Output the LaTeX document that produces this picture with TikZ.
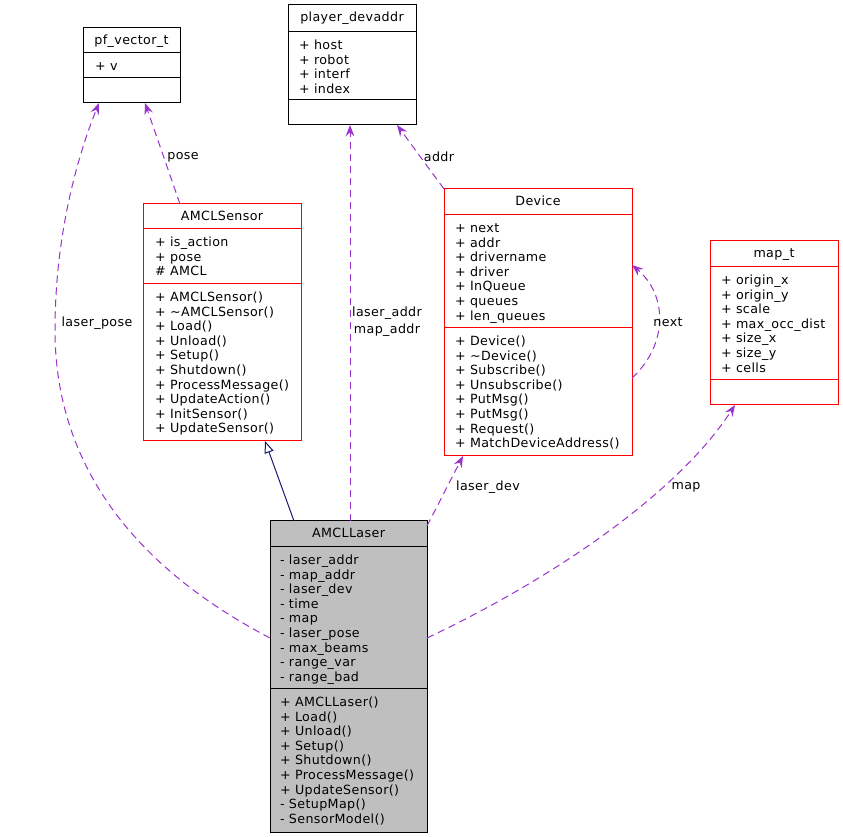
\documentclass[tikz,border=0pt]{standalone}
\usepackage{fontspec}
\setmainfont{DejaVu Sans}[LetterSpace=3]
\usetikzlibrary{arrows.meta,calc}
\definecolor{dorchid}{HTML}{9A32CD}
\definecolor{mnavy}{HTML}{191970}
\definecolor{boxgray}{HTML}{BFBFBF}
\tikzset{
  x=0.75pt,y=-0.75pt,
  every node/.style={font=\fontsize{9.5}{11.5}\selectfont},
  lbl/.style={inner sep=0,outer sep=0,anchor=base west},
  ttl/.style={inner sep=0,outer sep=0,anchor=base},
  elbl/.style={inner sep=0,outer sep=0,anchor=center,align=center},
  dep/.style={draw=dorchid,line width=0.75pt,dash pattern=on 5.5pt off 3.5pt,
    -{Stealth[length=8.5pt,width=6.5pt,inset=3pt]}},
  inh/.style={draw=mnavy,line width=0.75pt,-{Triangle[open,length=9pt,width=7pt,fill=white]}},
  redbox/.style={draw=red,fill=white},
  blackbox/.style={draw=black,fill=white},
  graybox/.style={draw=black,fill=boxgray}
}
% #1 name #2 left #3 top #4 right #5 bottom #6 sep1 #7 sep2 #8 style #9 title
\newcommand\umlbox[9]{%
  \node[#8,line width=0.75pt,inner sep=0,outer sep=0,
    minimum width={(#4-#2)*0.75pt},minimum height={(#5-#3)*0.75pt}]
    (#1) at ({(#2+#4)/2},{(#3+#5)/2}) {};
  \draw[#8,fill=none,line width=0.75pt] (#2,#6) -- (#4,#6);
  \draw[#8,fill=none,line width=0.75pt] (#2,#7) -- (#4,#7);
  \node[ttl] at ({(#2+#4)/2},{#3+17}) {#9};
}
\newcommand\umllines[3]{%
  \foreach \t [count=\i from 0] in {#3} {\node[lbl] at (#1,{#2+17.5+\i*14.6}) {\t};}
}
\begin{document}
\begin{tikzpicture}
\useasboundingbox (0,0) rectangle (843,837);

% pf_vector_t
\umlbox{pf}{83}{28}{180}{103}{53}{78}{blackbox}{pf\_vector\_t}
\umllines{95}{53}{+ v}

% player_devaddr
\umlbox{pd}{288}{5}{416}{125}{32}{100}{blackbox}{player\_devaddr}
\umllines{299}{32}{+ host,+ robot,+ interf,+ index}

% AMCLSensor
\umlbox{sensor}{143}{204}{301}{441}{229}{284}{redbox}{AMCLSensor}
\umllines{155}{229}{+ is\_action,+ pose,\# AMCL}
\umllines{155}{284}{+ AMCLSensor(),+ \textasciitilde AMCLSensor(),+ Load(),+ Unload(),+ Setup(),+ Shutdown(),+ ProcessMessage(),+ UpdateAction(),+ InitSensor(),+ UpdateSensor()}

% Device
\umlbox{device}{444}{189}{632}{456}{215}{328}{redbox}{Device}
\umllines{455}{215}{+ next,+ addr,+ drivername,+ driver,+ InQueue,+ queues,+ len\_queues}
\umllines{455}{328}{+ Device(),+ \textasciitilde Device(),+ Subscribe(),+ Unsubscribe(),+ PutMsg(),+ PutMsg(),+ Request(),+ MatchDeviceAddress()}

% map_t
\umlbox{map}{710}{241}{838}{405}{267}{380}{redbox}{map\_t}
\umllines{721}{267}{+ origin\_x,+ origin\_y,+ scale,+ max\_occ\_dist,+ size\_x,+ size\_y,+ cells}

% AMCLLaser
\umlbox{laser}{270}{521}{427}{832}{547}{689}{graybox}{AMCLLaser}
\umllines{280}{547}{- laser\_addr,- map\_addr,- laser\_dev,- time,- map,- laser\_pose,- max\_beams,- range\_var,- range\_bad}
\umllines{280}{689}{+ AMCLLaser(),+ Load(),+ Unload(),+ Setup(),+ Shutdown(),+ ProcessMessage(),+ UpdateSensor(),- SetupMap(),- SensorModel()}

% edges
\draw[inh] ($(laser.north west)+(24,0)$) -- ($(sensor.south west)+(122,0)$);
\draw[dep] ($(laser.north west)+(0,117)$) .. controls (140,570) and (55,470) .. (55,330)
  .. controls (55,230) and (80,150) .. ($(pf.south west)+(16,0)$);
\draw[dep] ($(sensor.north west)+(37,0)$) -- ($(pf.south west)+(62,0)$);
\draw[dep] ($(laser.north west)+(80,0)$) -- ($(pd.south west)+(62,0)$);
\draw[dep] (device.north west) -- ($(pd.south west)+(109,0)$);
\draw[dep] ($(laser.north east)+(0,5)$) -- ($(device.south west)+(19,0)$);
\draw[dep] ($(device.north east)+(0,189)$) .. controls (668,345) and (668,295) .. ($(device.north east)+(0,76)$);
\draw[dep] ($(laser.north east)+(0,117)$) .. controls (560,575) and (680,490) .. ($(map.south west)+(25,0)$);

% edge labels
\node[elbl] (l1) at (97,323) {laser\_pose};
\node[elbl] (l2) at (183,157) {pose};
\node[elbl,align=center] (l3) at (387,322) {laser\_addr\\[1pt]map\_addr};
\node[elbl] (l4) at (439,157) {addr};
\node[elbl] (l5) at (488,487) {laser\_dev};
\node[elbl] (l6) at (668,322) {next};
\node[elbl] (l7) at (686,487) {map};
\end{tikzpicture}
\end{document}
